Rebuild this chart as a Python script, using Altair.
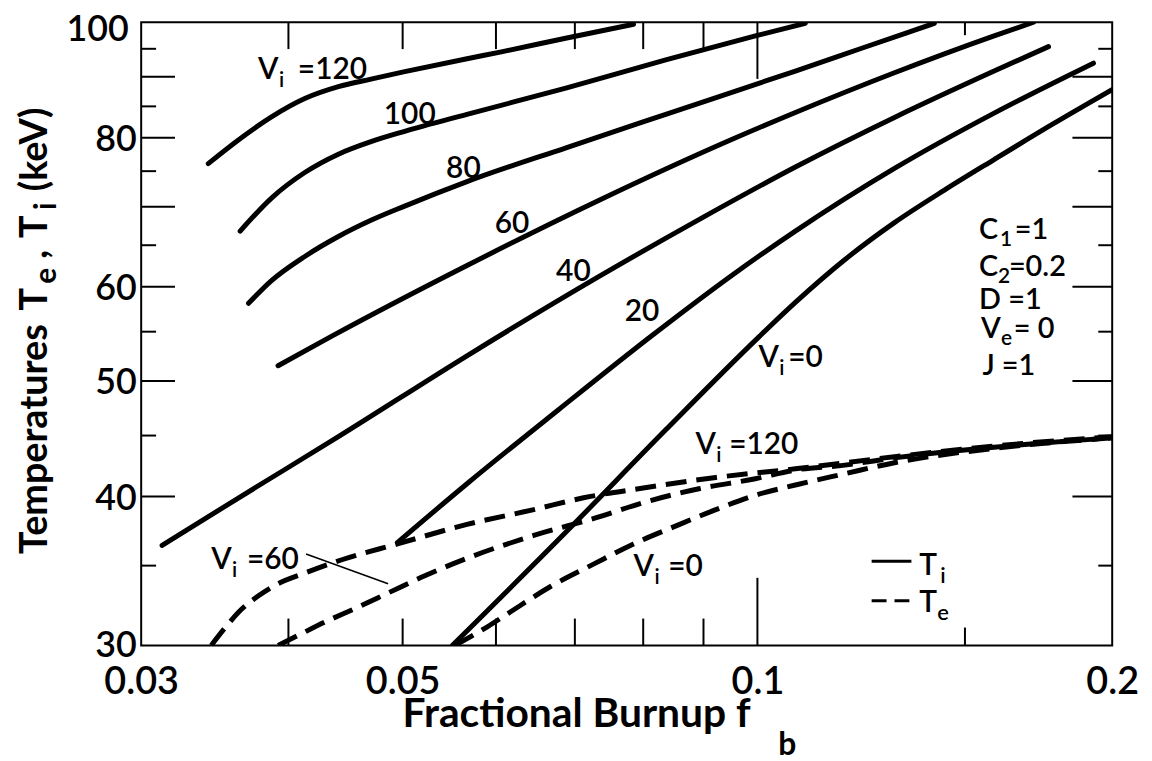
import altair as alt
import pandas as pd

# ---------------- data ----------------
# Ion temperature T_i (solid) for V_i = 120, 100, 80, 60, 40, 20, 0
ti120_fb = [0.0342, 0.0363, 0.0387, 0.0413, 0.0441, 0.0470, 0.0502, 0.0567, 0.0605, 0.0689, 0.0785]
ti120_T = [76.1, 79.7, 83.3, 86.3, 88.3, 89.6, 90.9, 93.2, 94.4, 97.0, 99.6]

ti100_fb = [0.0364, 0.0387, 0.0413, 0.0441, 0.0470, 0.0502, 0.0567, 0.0689, 0.0836, 0.0996, 0.1098]
ti100_T = [66.8, 71.2, 74.8, 77.5, 79.4, 81.0, 83.7, 88.1, 93.0, 97.4, 99.8]

ti80_fb = [0.0370, 0.0387, 0.0413, 0.0441, 0.0470, 0.0502, 0.0567, 0.0689, 0.0836, 0.1077, 0.1226, 0.1413]
ti80_T = [58.1, 60.7, 63.6, 66.1, 68.2, 70.1, 73.5, 78.5, 83.7, 91.0, 95.1, 99.8]

ti60_fb = [0.0392, 0.0435, 0.0567, 0.0734, 0.0953, 0.1077, 0.1307, 0.1588, 0.1715]
ti60_T = [51.5, 54.5, 62.5, 70.9, 79.8, 84.0, 90.7, 97.4, 100.0]

ti40_fb = [0.03125, 0.0363, 0.0441, 0.0567, 0.0734, 0.0892, 0.1077, 0.1307, 0.1588, 0.1766]
ti40_T = [36.4, 39.9, 44.9, 52.5, 61.2, 68.3, 75.6, 83.2, 91.0, 95.4]

ti20_fb = [0.0495, 0.0567, 0.0678, 0.0816, 0.0953, 0.1077, 0.1307, 0.1588, 0.1928]
ti20_T = [36.6, 41.0, 47.3, 54.7, 61.4, 66.8, 75.4, 83.9, 92.4]

ti0_fb = [0.0551, 0.0689, 0.0836, 0.1002, 0.1077, 0.1186, 0.1307, 0.1441, 0.1588, 0.1783, 0.2]
ti0_T = [30.0, 37.4, 45.5, 54.4, 58.2, 63.2, 67.9, 72.3, 76.7, 82.2, 87.8]

# Electron temperature T_e (dashed) for V_i = 120, 60, 0
te120_fb = [0.0344, 0.0354, 0.0363, 0.0377, 0.0392, 0.0413, 0.0444, 0.0495, 0.0567, 0.0646,
            0.0712, 0.0805, 0.0922, 0.1077, 0.1307, 0.1588, 0.2]
te120_T = [30.0, 31.1, 32.0, 33.0, 33.8, 34.5, 35.4, 36.5, 37.9, 39.0,
           39.9, 40.7, 41.5, 42.2, 43.2, 44.1, 44.9]

te60_fb = [0.0392, 0.0408, 0.0430, 0.0455, 0.0486, 0.0518, 0.0567, 0.0646, 0.0730, 0.0805,
           0.0892, 0.0996, 0.1077, 0.1186, 0.1307, 0.1588, 0.2]
te60_T = [30.0, 30.6, 31.4, 32.2, 33.2, 34.2, 35.5, 37.1, 38.4, 39.6,
          40.6, 41.4, 42.1, 42.5, 43.1, 44.0, 44.8]

te0_fb = [0.0554, 0.0590, 0.0617, 0.0667, 0.0726, 0.0785, 0.0848, 0.0922, 0.0996, 0.1077,
          0.1186, 0.1307, 0.1588, 0.2]
te0_T = [30.0, 31.1, 32.0, 33.6, 35.1, 36.5, 37.7, 39.0, 40.1, 40.9,
         41.8, 42.7, 43.9, 44.8]

# curve number labels
num_text = ["100", "80", "60", "40", "20"]
num_fb = [0.0507, 0.0563, 0.0619, 0.0698, 0.0798]
num_T = [82.1, 74.0, 66.6, 60.7, 56.2]

# "V_i = ..." labels: anchor (left of V, baseline) and the text after the subscript
vi_rest = ["=120", "=0", "=120", "=0", "=60"]
vi_fb = [0.0377, 0.1002, 0.0886, 0.0785, 0.0344]
vi_T = [89.6, 51.4, 43.4, 34.3, 34.8]

# leader line from the "V_i = 60" label
lead_fb = [0.0414, 0.0486]
lead_T = [35.8, 33.8]

# parameter block (main letter, subscript, rest)
par_main = ["C", "C", "D =1", "V", "J =1"]
par_sub = ["1", "2", "", "e", ""]
par_rest = ["=1", "=0.2", "", "= 0", ""]
par_fb = [0.1542, 0.1542, 0.1542, 0.1548, 0.1552]
par_T = [65.8, 61.2, 57.5, 54.3, 50.6]

# legend
leg_fb = [0.1250, 0.1351]
leg_solid_T = [35.3, 35.3]
leg_dash_T = [32.7, 32.7]
leg_sub = ["i", "e"]
leg_text_fb = [0.1372, 0.1372]
leg_text_T = [34.4, 32.0]

# axes
x_label_vals = [0.03, 0.05, 0.1, 0.2]
y_label_vals = [30, 40, 50, 60, 80, 100]
x_ticks_mid = [0.04, 0.05, 0.06, 0.07, 0.08, 0.09]
x_ticks_long = [0.1]
x_ticks_short = [0.15]
y_ticks_long = [40, 50, 60, 70, 80, 90]
y_ticks_short = [35, 45, 55, 65, 75, 85, 95]

# ---------------- chart ----------------
W, H = 977, 627
FONT = "Lato"
DUMMY = pd.DataFrame({"a": [0]})


def long_df(series):
    rows = []
    for name, xs_, ys_ in series:
        for i, (a, b) in enumerate(zip(xs_, ys_)):
            rows.append({"x": a, "y": b, "curve": name, "ord": i})
    return pd.DataFrame(rows)


ti_df = long_df([("120", ti120_fb, ti120_T), ("100", ti100_fb, ti100_T), ("80", ti80_fb, ti80_T),
                 ("60", ti60_fb, ti60_T), ("40", ti40_fb, ti40_T), ("20", ti20_fb, ti20_T),
                 ("0", ti0_fb, ti0_T)])
te_df = long_df([("120", te120_fb, te120_T), ("60", te60_fb, te60_T), ("0", te0_fb, te0_T)])

xscale = alt.Scale(type="log", domain=[0.03, 0.2], nice=False)
yscale = alt.Scale(type="log", domain=[30, 100], nice=False)

xaxis = alt.Axis(values=x_label_vals, format=".2~f", title="",
                 ticks=False, tickSize=0, domain=False, grid=False,
                 labelFont=FONT, labelFontSize=38, labelFontWeight=600, labelColor="black",
                 labelPadding=18, labelFlush=False, labelOverlap=False)
yaxis = alt.Axis(values=y_label_vals, format="d", title="",
                 ticks=False, tickSize=0, domain=False, grid=False,
                 labelFont=FONT, labelFontSize=36, labelFontWeight=600, labelColor="black",
                 labelBaseline="alphabetic",
                 labelOffset={"condition": [{"test": "datum.value == 100", "value": 18},
                                            {"test": "datum.value == 30", "value": 11}],
                              "value": 13},
                 labelPadding={"condition": {"test": "datum.value == 100", "value": 13}, "value": 5},
                 labelFlush=False, labelOverlap=False)

X = alt.X("x:Q", scale=xscale, axis=xaxis)
Y = alt.Y("y:Q", scale=yscale, axis=yaxis)

solid = alt.Chart(ti_df).mark_line(color="black", strokeWidth=5, strokeCap="round",
                                   interpolate="monotone", clip=True).encode(
    x=X, y=Y, detail="curve:N", order="ord:Q")
dashed = alt.Chart(te_df).mark_line(color="black", strokeWidth=5, strokeDash=[21, 10],
                                    interpolate="monotone", clip=True).encode(
    x=X, y=Y, detail="curve:N", order="ord:Q")

lead = alt.Chart(pd.DataFrame({"x": lead_fb, "y": lead_T})).mark_line(
    color="black", strokeWidth=1.6).encode(x=X, y=Y)

leg_s = alt.Chart(pd.DataFrame({"x": leg_fb, "y": leg_solid_T})).mark_line(
    color="black", strokeWidth=3).encode(x=X, y=Y)
leg_d = alt.Chart(pd.DataFrame({"x": leg_fb, "y": leg_dash_T})).mark_line(
    color="black", strokeWidth=3, strokeDash=[15, 8]).encode(x=X, y=Y)


def data_text(text, fb, T, size=30, dx=0, dy=0, align="left", weight=600):
    df = pd.DataFrame({"x": [fb], "y": [T]})
    return alt.Chart(df).mark_text(text=text, font=FONT, fontSize=size, fontWeight=weight,
                                   color="black", align=align, baseline="alphabetic",
                                   dx=dx, dy=dy).encode(x=X, y=Y)


def pix_text(text, px, py, size, angle=0, weight="bold"):
    return alt.Chart(DUMMY).mark_text(text=text, font=FONT, fontSize=size, fontWeight=weight,
                                      color="black", align="left", baseline="alphabetic",
                                      angle=angle).encode(x=alt.value(px), y=alt.value(py))


texts = []
for t, a, b in zip(num_text, num_fb, num_T):
    texts.append(data_text(t, a, b, align="center"))

# V_i labels: V, subscript i, rest (gap depends on whether a space follows the subscript)
vi_gap = [40, 30, 34, 35, 36]
for rest, a, b, g in zip(vi_rest, vi_fb, vi_T, vi_gap):
    texts.append(data_text("V", a, b))
    texts.append(data_text("i", a, b, size=21, dx=21, dy=8))
    texts.append(data_text(rest, a, b, dx=g))

par_sub_dx = [21, 19, 0, 20, 0]
par_rest_dx = [36, 30, 0, 33, 0]
for m, s, r, a, b, sdx, rdx in zip(par_main, par_sub, par_rest, par_fb, par_T, par_sub_dx, par_rest_dx):
    texts.append(data_text(m, a, b, size=29))
    if s:
        texts.append(data_text(s, a, b, size=21, dx=sdx, dy=7))
    if r:
        texts.append(data_text(r, a, b, size=29, dx=rdx))

leg_sub_dx = [21, 18]
for s, a, b, sdx in zip(leg_sub, leg_text_fb, leg_text_T, leg_sub_dx):
    texts.append(data_text("T", a, b))
    texts.append(data_text(s, a, b, size=22, dx=sdx, dy=8))

# axis titles (placed in pixels relative to the plot's top-left corner)
titles = [
    pix_text("Fractional Burnup f", 263, 709, 41),
    pix_text("b", 641, 737, 32),
    pix_text("Temperatures", -95, 535, 38, angle=270),
    pix_text("T", -95, 290, 38, angle=270),
    pix_text("e", -86, 263, 30, angle=270),
    pix_text(",", -95, 238, 38, angle=270),
    pix_text("T", -95, 217, 38, angle=270),
    pix_text("i", -86, 189, 30, angle=270),
    pix_text("(keV)", -95, 170, 38, angle=270),
]


def tick_layer_x(vals, y0, y1):
    return alt.Chart(pd.DataFrame({"x": vals})).mark_rule(color="black", strokeWidth=2).encode(
        x=X, y=alt.value(y0), y2=alt.value(y1))


def tick_layer_y(vals, x0, x1):
    return alt.Chart(pd.DataFrame({"y": vals})).mark_rule(color="black", strokeWidth=2).encode(
        y=Y, x=alt.value(x0), x2=alt.value(x1))


ticks = [
    tick_layer_x(x_ticks_mid, H, H - 27), tick_layer_x(x_ticks_long, H, H - 68),
    tick_layer_x(x_ticks_short, H, H - 18),
    tick_layer_x(x_ticks_mid, 0, 27), tick_layer_x(x_ticks_long, 0, 57),
    tick_layer_x(x_ticks_short, 0, 13),
    tick_layer_y(y_ticks_long, 0, 34), tick_layer_y(y_ticks_short, 0, 15),
    tick_layer_y(y_ticks_long, W, W - 40), tick_layer_y(y_ticks_short, W, W - 14),
]

chart = alt.layer(solid, dashed, lead, leg_s, leg_d, *texts, *ticks, *titles).properties(
    width=W, height=H,
    autosize=alt.AutoSizeParams(type="none"),
    padding={"left": 134, "top": 12, "right": 32, "bottom": 120},
    background="white",
).configure_view(stroke="black", strokeWidth=2)

chart.save("out.html", embed_options={"renderer": "svg", "actions": False})
